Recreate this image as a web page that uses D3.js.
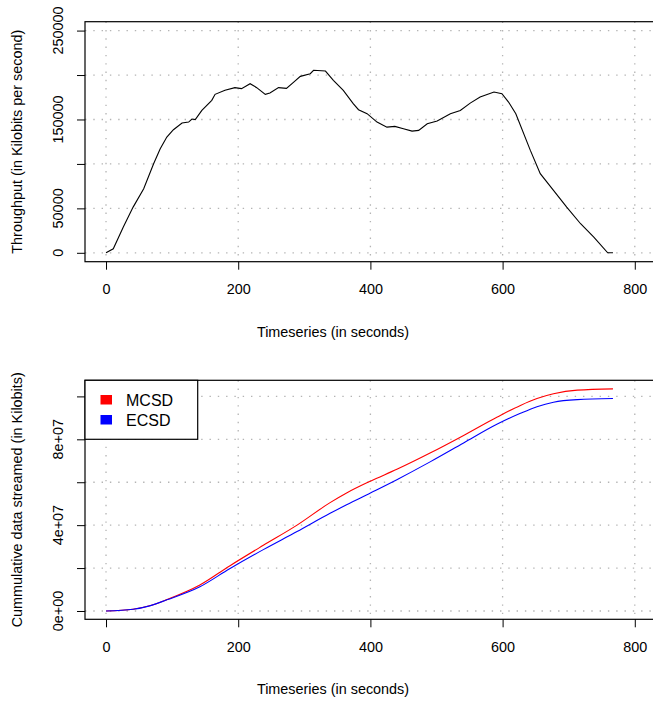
<!DOCTYPE html>
<html>
<head>
<meta charset="utf-8">
<script src="https://cdn.jsdelivr.net/npm/d3@7"></script>
<style>
  body { margin: 0; background: #fff; }
  svg { display: block; font-family: "Liberation Sans", Arial, Helvetica, sans-serif; }
</style>
</head>
<body>
<svg id="chart" width="653" height="702"></svg>
<script>
// throughput over time (seconds, kilobits per second)
const tpTime = [0, 11, 26, 41, 57, 72, 82, 92, 102, 115, 125, 130, 135, 145, 160, 165, 180, 195, 205, 218, 228,
  241, 248, 261, 273, 284, 294, 309, 314, 332, 344, 359, 374, 382, 395, 410, 425, 437, 450, 463, 473,
  486, 501, 521, 536, 551, 566, 587, 599, 609, 620, 642, 657, 677, 697, 718, 738, 759, 767];
const tpValue = [0, 4500, 28800, 51400, 72000, 100200, 117000, 130200, 138500, 146000, 147100, 150500, 149800,
  160200, 171500, 178300, 182800, 185800, 184700, 190300, 185800, 178300, 179700, 185800, 185000, 192100,
  198500, 201500, 205300, 204500, 194000, 182800, 167800, 161000, 156500, 147100, 141400, 142200, 139600,
  136900, 137700, 145200, 148200, 156500, 160200, 168400, 175200, 180900, 179000, 169600, 156500, 115200,
  89000, 70200, 51400, 32700, 17600, 0, 0];

// cumulative data streamed (kilobits)
const cumTime = [0, 41, 66, 92, 142, 187, 238, 289, 339, 364, 400, 440, 491, 541, 592, 627, 652, 677, 713, 767];
const mcsd = [0, 0.08e7, 0.24e7, 0.53e7, 1.21e7, 2.1e7, 3.06e7, 4.0e7, 5.05e7, 5.5e7, 6.05e7, 6.6e7, 7.37e7,
  8.18e7, 9.04e7, 9.58e7, 9.9e7, 10.12e7, 10.29e7, 10.35e7];
const ecsd = [0, 0.08e7, 0.24e7, 0.52e7, 1.13e7, 1.97e7, 2.86e7, 3.7e7, 4.55e7, 4.95e7, 5.5e7, 6.12e7, 6.96e7,
  7.83e7, 8.71e7, 9.21e7, 9.52e7, 9.73e7, 9.85e7, 9.9e7];

const xTicks = [0, 200, 400, 600, 800];
const tpTicks = [0, 50000, 100000, 150000, 200000, 250000];
const tpLabels = [0, 50000, 150000, 250000];
const cumTicks = [0, 2e7, 4e7, 6e7, 8e7, 1e8];
const cumLabels = ["0e+00", "4e+07", "8e+07"];
const seriesNames = ["MCSD", "ECSD"];
const seriesColors = ["#ff0000", "#0000ff"];

const svg = d3.select("#chart");
const fontSize = 14.4;

function panel(top, bottom, yDomain, yTicks, yLabelVals, yLabelText, yTitle) {
  const left = 85, right = 654;
  const x = d3.scaleLinear().domain([-31.8, 826.8]).range([left, right - 1.5]);
  const y = d3.scaleLinear().domain(yDomain).range([bottom, top]);
  const g = svg.append("g");

  // dotted grid
  g.selectAll(".hg").data(yTicks).join("line")
    .attr("x1", left).attr("x2", right)
    .attr("y1", d => y(d)).attr("y2", d => y(d))
    .attr("stroke", "#b4b4b4").attr("stroke-width", 1.3).attr("stroke-dasharray", "1.4,6.9");
  g.selectAll(".vg").data(xTicks).join("line")
    .attr("y1", top).attr("y2", bottom)
    .attr("x1", d => x(d)).attr("x2", d => x(d))
    .attr("stroke", "#b4b4b4").attr("stroke-width", 1.3).attr("stroke-dasharray", "1.4,6.9");

  // axes
  const xa = g.append("g").attr("transform", `translate(0,${bottom})`)
    .call(d3.axisBottom(x).tickValues(xTicks).tickSize(8).tickPadding(14).tickFormat(d3.format("d")));
  xa.select(".domain").remove();
  xa.selectAll("text").attr("font-size", fontSize).attr("font-family", null).attr("fill", "#000");

  const ya = g.append("g").attr("transform", `translate(${left},0)`)
    .call(d3.axisLeft(y).tickValues(yTicks).tickSize(8).tickFormat(""));
  ya.select(".domain").remove();
  g.selectAll(".ylab").data(yLabelVals).join("text")
    .attr("transform", d => `translate(63,${y(d)}) rotate(-90)`)
    .attr("text-anchor", "middle").attr("font-size", fontSize)
    .text((d, i) => yLabelText ? yLabelText[i] : d);

  // titles
  g.append("text").attr("x", 333).attr("y", bottom + 75)
    .attr("text-anchor", "middle").attr("font-size", fontSize).text("Timeseries (in seconds)");
  g.append("text").attr("transform", `translate(22,${(top + bottom) / 2}) rotate(-90)`)
    .attr("text-anchor", "middle").attr("font-size", fontSize).text(yTitle);

  // frame
  g.append("rect").attr("x", left).attr("y", top).attr("width", right - left + 5).attr("height", bottom - top)
    .attr("fill", "none").attr("stroke", "#000").attr("stroke-width", 1.2);
  return {g, x, y};
}

// top panel
const p1 = panel(21.7, 261.7, [-10000, 260000], tpTicks, tpLabels, null, "Throughput (in Kilobits per second)");
const tpLine = d3.line().x((d, i) => p1.x(tpTime[i])).y(d => p1.y(d));
p1.g.append("path").attr("d", tpLine(tpValue)).attr("fill", "none").attr("stroke", "#000").attr("stroke-width", 1.1);

// bottom panel
const p2 = panel(380.3, 619.3, [-3.87e6, 1.075e8], cumTicks, [0, 4e7, 8e7], cumLabels, "Cummulative data streamed (in Kilobits)");
const cumLine = d3.line().curve(d3.curveMonotoneX).x((d, i) => p2.x(cumTime[i])).y(d => p2.y(d));
[mcsd, ecsd].forEach((s, k) => {
  p2.g.append("path").attr("d", cumLine(s)).attr("fill", "none").attr("stroke", seriesColors[k]).attr("stroke-width", 1.1);
});

// legend
const lg = p2.g.append("g");
lg.append("rect").attr("x", 85).attr("y", 380.3).attr("width", 112.7).attr("height", 59)
  .attr("fill", "#fff").attr("stroke", "#000").attr("stroke-width", 1.2);
seriesNames.forEach((name, k) => {
  lg.append("rect").attr("x", 100.5).attr("y", 395 + k * 20).attr("width", 11.5).attr("height", 9.5).attr("fill", seriesColors[k]);
  lg.append("text").attr("x", 126).attr("y", 406 + k * 20).attr("font-size", 16).text(name);
});
</script>
</body>
</html>
